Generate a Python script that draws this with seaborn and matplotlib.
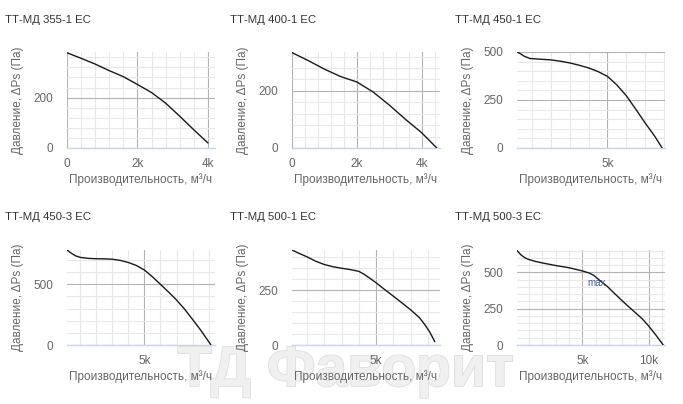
import numpy as np
import pandas as pd
import matplotlib
matplotlib.use("Agg")
import matplotlib.pyplot as plt
import matplotlib.patheffects as pe
from matplotlib.ticker import MultipleLocator, FuncFormatter
import seaborn as sns

# fan curves: flow in m3/h, static pressure in Pa
titles = ["ТТ-МД 355-1 ЕС", "ТТ-МД 400-1 ЕС", "ТТ-МД 450-1 ЕС",
          "ТТ-МД 450-3 ЕС", "ТТ-МД 500-1 ЕС", "ТТ-МД 500-3 ЕС"]

q_355_1 = [0, 400, 800, 1200, 1600, 2000, 2400, 2800, 3200, 3600, 4000]
p_355_1 = [378, 356, 333, 307, 283, 252, 220, 178, 126, 72, 20]

q_400_1 = [0, 500, 1000, 1500, 2000, 2500, 3000, 3500, 4000, 4460]
p_400_1 = [334, 306, 276, 250, 231, 196, 150, 100, 53, 0]

q_450_1 = [200, 400, 600, 900, 1500, 2000, 2500, 3000, 3500, 4000, 4500, 5000,
           5500, 6000, 6500, 7000, 7500, 7900]
p_450_1 = [500, 490, 477, 466, 462, 459, 452, 443, 431, 417, 398, 373,
           328, 272, 202, 130, 62, 0]

q_450_3 = [170, 400, 700, 1000, 1500, 2000, 2500, 3000, 3500, 4000, 4500, 5000,
           5500, 6000, 6500, 7000, 7500, 8000, 8500, 9150]
p_450_3 = [783, 760, 735, 722, 714, 711, 710, 707, 697, 680, 655, 618,
           562, 500, 437, 371, 296, 211, 124, 0]

q_500_1 = [130, 500, 1000, 1500, 2000, 2500, 3000, 3500, 4000, 4300, 4700, 5000,
           5500, 6000, 6500, 7000, 7500, 7800, 8100, 8400]
p_500_1 = [432, 418, 401, 381, 366, 356, 349, 343, 335, 322, 300, 283,
           252, 222, 191, 160, 125, 95, 60, 15]

q_500_3 = [100, 400, 700, 1000, 1500, 2000, 3000, 4000, 5000, 5500, 5850, 6300,
           6900, 7400, 7900, 8400, 8900, 9500, 10000, 10500, 11070]
p_500_3 = [650, 620, 600, 588, 575, 565, 547, 532, 510, 496, 480, 445,
           401, 356, 312, 270, 229, 180, 128, 70, 0]

flows = [q_355_1, q_400_1, q_450_1, q_450_3, q_500_1, q_500_3]
pressures = [p_355_1, p_400_1, p_450_1, p_450_3, p_500_1, p_500_3]

# axis ranges and tick steps per panel
x_lims = [(0, 4200), (0, 4560), (200, 8050), (170, 9400), (130, 8700), (100, 11200)]
y_lims = [(0, 381), (0, 336), (0, 500), (0, 783), (0, 432), (0, 654)]
x_major = [2000, 2000, 5000, 5000, 5000, 5000]
x_minor = [400, 400, 1000, 1000, 1000, 1000]
y_major = [200, 200, 250, 500, 250, 250]

max_label_x = 6090
max_label_y = 424

sns.set_theme(style="white")
plt.rcParams["font.family"] = ["Liberation Sans", "DejaVu Sans"]

W, H = 683, 404
fig = plt.figure(figsize=(W / 100, H / 100), dpi=100)

# faint watermark across the bottom, behind everything
fig.text(346 / W, 1 - 371 / H, "ТД Фаворит", fontsize=41, fontweight="bold",
         color="#f0f0f0", ha="center", va="center", zorder=-1,
         path_effects=[pe.withStroke(linewidth=1.2, foreground="#dedede")])

col_left = [67, 292, 517]
row_top = [52, 250]
row_bottom = [148, 345]
title_y = [20, 217]

fmt_k = FuncFormatter(lambda v, p: "0" if v == 0 else "%dk" % round(v / 1000))

for i in range(6):
    r, c = divmod(i, 3)
    hgt = row_bottom[r] - row_top[r]
    ax = fig.add_axes([col_left[c] / W, 1 - row_bottom[r] / H, 148 / W, hgt / H])
    ax.set_facecolor("none")
    df = pd.DataFrame({"q": flows[i], "p": pressures[i]})
    sns.lineplot(data=df, x="q", y="p", ax=ax, color="#1a1a1a", lw=1.0, zorder=5)

    ax.set_xlim(*x_lims[i])
    ax.set_ylim(*y_lims[i])
    ax.xaxis.set_major_locator(MultipleLocator(x_major[i]))
    ax.xaxis.set_minor_locator(MultipleLocator(x_minor[i]))
    ax.yaxis.set_major_locator(MultipleLocator(y_major[i]))
    ax.yaxis.set_minor_locator(MultipleLocator(y_major[i] / 5))
    ax.xaxis.set_major_formatter(fmt_k)
    ax.grid(which="minor", color="#e8e8e8", lw=0.8, zorder=0)
    ax.grid(which="major", color="#b3b3b3", lw=0.8, zorder=1)
    ax.set_axisbelow(True)
    for s in ["left", "right", "top"]:
        ax.spines[s].set_visible(False)
    ax.spines["bottom"].set_color("#ccd6eb")
    ax.spines["bottom"].set_linewidth(1.0)
    ax.tick_params(which="both", length=0)
    ax.tick_params(axis="y", pad=10, labelsize=8.5, labelcolor="#666666")
    ax.tick_params(axis="x", pad=7, labelsize=8.5, labelcolor="#666666")

    ax.set_xlabel("Производительность, м³/ч", fontsize=8.5, color="#666666")
    ax.set_ylabel("Давление, ΔPs (Па)", fontsize=8.5, color="#666666")
    ax.xaxis.set_label_coords(0.5, -(173 - 148) / hgt)
    ax.yaxis.set_label_coords(-(67 - 24) / 148, 0.5)

    fig.text((col_left[c] - 62) / W, 1 - title_y[r] / H, titles[i],
             fontsize=8.2, color="#333333", va="center", ha="left")

    if i == 5:
        ax.text(max_label_x, max_label_y, "max", fontsize=7, color="#4a5f9a",
                ha="center", va="center", zorder=6)

fig.savefig("out.png", dpi=100)
